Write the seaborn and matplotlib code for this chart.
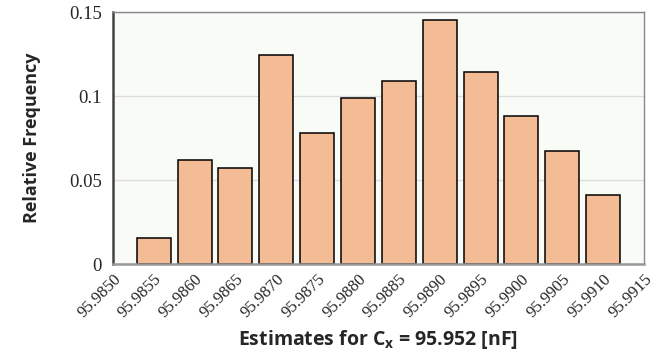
import numpy as np
import pandas as pd
import matplotlib
matplotlib.use("Agg")
import matplotlib.pyplot as plt
import seaborn as sns
from matplotlib.ticker import MultipleLocator

# tick labels (bin edges) and bars (centred on the inner labels)
tick_labels = ["95.9850", "95.9855", "95.9860", "95.9865", "95.9870", "95.9875",
               "95.9880", "95.9885", "95.9890", "95.9895", "95.9900", "95.9905",
               "95.9910", "95.9915"]
bar_labels = tick_labels[1:-1]
rel_freq = [0.0156, 0.0622, 0.0570, 0.1245, 0.0778, 0.0987,
            0.1090, 0.1452, 0.1144, 0.0883, 0.0673, 0.0413]

df = pd.DataFrame({"bin": bar_labels, "freq": rel_freq})

sns.set_style("white")

fig = plt.figure(figsize=(6.68, 3.54), dpi=100)
ax = fig.add_axes([0.169, 0.254, 0.795, 0.712])
ax.set_facecolor("#F9FBF6")

sns.barplot(data=df, x="bin", y="freq", order=tick_labels, color="#F4BC94",
            saturation=1, width=0.83, edgecolor="black", linewidth=1.1, ax=ax)

ax.set_xlim(0, len(tick_labels) - 1)
ax.set_ylim(0, 0.15)
ax.set_xticks(range(len(tick_labels)))
ax.set_xticklabels(tick_labels, rotation=45, ha="right", rotation_mode="anchor")
for t in ax.get_xticklabels():
    t.set_fontfamily("Liberation Serif")
    t.set_fontsize(12)
ax.set_yticks([0, 0.05, 0.1, 0.15])
ax.set_yticklabels(["0", "0.05", "0.1", "0.15"])
for t in ax.get_yticklabels():
    t.set_fontfamily("Liberation Serif")
    t.set_fontsize(13.5)
ax.yaxis.set_minor_locator(MultipleLocator(0.01))

ax.tick_params(axis="x", length=0, pad=5)
ax.tick_params(axis="y", which="both", direction="in", length=4, width=1.2,
               color="#333333", pad=8)

ax.yaxis.grid(True, color="#DDDDDD", linewidth=1)
ax.set_axisbelow(True)

for side in ["top", "right"]:
    ax.spines[side].set_color("#888888")
    ax.spines[side].set_linewidth(1)
ax.spines["left"].set_color("#444444")
ax.spines["left"].set_linewidth(1.8)
ax.spines["bottom"].set_color("#999999")
ax.spines["bottom"].set_linewidth(1.8)

ax.set_xlabel("Estimates for C$_\\mathregular{x}$ = 95.952 [nF]", family="Open Sans",
              fontweight="bold", fontsize=14, labelpad=5)
ax.set_ylabel("Relative Frequency", family="Open Sans", fontweight="bold",
              fontsize=13, labelpad=20)

fig.savefig("out.png", dpi=100)
